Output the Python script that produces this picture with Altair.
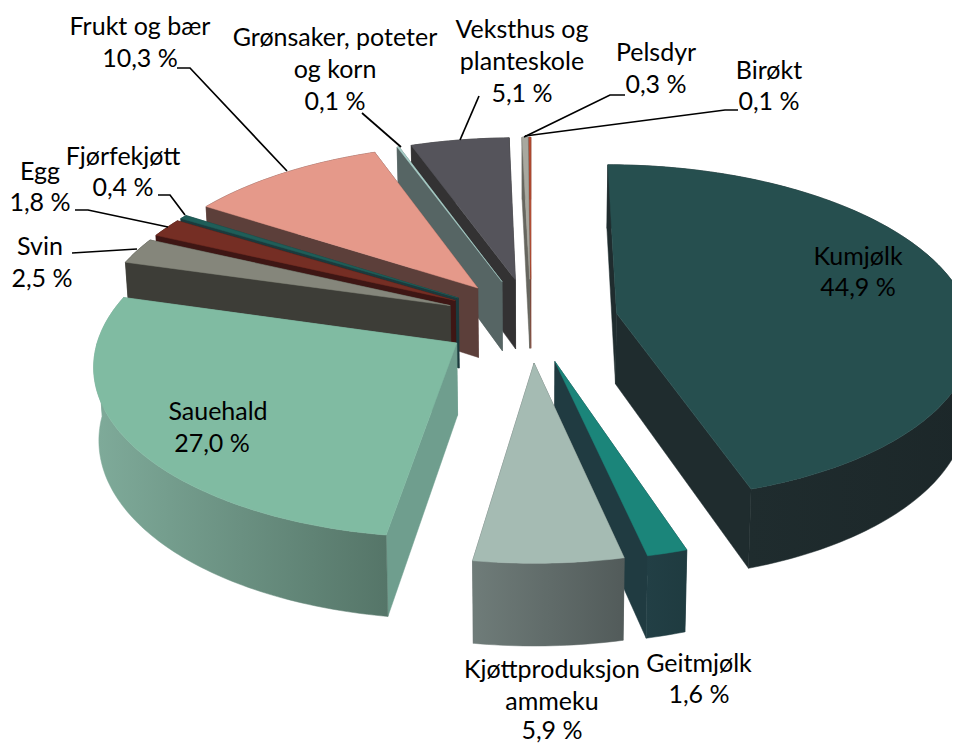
import math
import altair as alt
import pandas as pd

# Chart values
names = ["Kumjølk", "Geitmjølk", "Kjøttproduksjon ammeku", "Sauehald", "Svin", "Egg",
         "Fjørfekjøtt", "Frukt og bær", "Grønsaker, poteter og korn",
         "Veksthus og planteskole", "Pelsdyr", "Birøkt"]
shares = [44.9, 1.6, 5.9, 27.0, 2.5, 1.8, 0.4, 10.3, 0.1, 5.1, 0.3, 0.1]
top_colors = ["#264F4F", "#1B857A", "#A5BBB3", "#80BBA2", "#85867B", "#752E24",
              "#1F5E59", "#E5998A", "#A9CFC8", "#55545B", "#A8A89F", "#B5492F"]
side_colors = ["#1F2C2E", "#203B41", "#525B5A", "#6F9E8E", "#3D3D37", "#3E1614",
               "#1B3A3D", "#5C3F3A", "#566564", "#333233", "#66665F", "#7A3A2A"]
rim_left = ["#1F2C2E", "#223F45", "#6F7C79", "#7FAB9A", "#3D3D37", "#3E1614",
            "#1B3A3D", "#5C3F3A", "#566564", "#333233", "#66665F", "#7A3A2A"]
rim_right = ["#1C2729", "#1F3B40", "#525B5A", "#557568", "#3D3D37", "#3E1614",
             "#1B3A3D", "#5C3F3A", "#566564", "#333233", "#66665F", "#7A3A2A"]
paint_order = [11, 10, 9, 8, 7, 6, 5, 4, 3, 0, 1, 2]

label_lines = ["Kumjølk", "44,9 %", "Sauehald", "27,0 %", "Kjøttproduksjon", "ammeku", "5,9 %",
               "Geitmjølk", "1,6 %", "Svin", "2,5 %", "Egg", "1,8 %", "Fjørfekjøtt", "0,4 %",
               "Frukt  og bær", "10,3 %", "Grønsaker, poteter", "og korn", "0,1 %",
               "Veksthus og", "planteskole", "5,1 %", "Pelsdyr", "0,3 %", "Birøkt", "0,1 %"]
label_x = [850, 850, 210, 204, 544, 544, 544, 691, 691, 32, 34, 32, 32, 115, 115, 132, 132,
           327, 327, 327, 514, 514, 514, 648, 648, 761, 761]
label_y = [249, 280, 404, 436, 662, 694, 723, 656, 687, 239, 271, 164, 195, 149, 180, 19, 51,
           30, 62, 94, 22, 54, 86, 45, 77, 63, 94]
leader_paths = [
    [(169, 60), (182, 60), (279, 163)],
    [(354, 105), (393, 139)],
    [(471, 88), (452, 132)],
    [(617, 87), (602, 87), (516, 129)],
    [(730, 102), (717, 102), (517, 128)],
    [(150, 187), (162, 187), (177, 207)],
    [(67, 202), (80, 202), (160, 219)],
    [(64, 245), (129, 241)],
]

# View of the tilted disc
cx, y0, yv = 523.0, 312.0, -1158.0
rx, rd = 354.0, 0.1135
ex, ed = 87.0, 0.0285
wall, taper = 71.0, 0.988


def project(X, v, z):
    t = 1 / (1 - v)
    return (cx + X * t * (1 - (1 - taper) * z), yv + (y0 - yv) * t + wall * t * z)


W, H = 944, 737
X = alt.X("x:Q", scale=alt.Scale(domain=[0, W], range=[0, W]), axis=None)
Y = alt.Y("y:Q", scale=alt.Scale(domain=[0, H], range=[0, H]), axis=None)
layers = []


def add_poly(points, paint):
    data = pd.DataFrame([{"i": i, "x": round(x, 2), "y": round(y, 2)}
                         for i, (x, y) in enumerate(points)])
    layers.append(alt.Chart(data).mark_line(
        interpolate="linear-closed", fill=paint, stroke=paint, strokeWidth=0.5,
    ).encode(x=X, y=Y, order="i:Q"))


def band(rim, paint):
    if len(rim) > 1:
        add_poly([project(*p, 0) for p in rim] + [project(*p, 1) for p in reversed(rim)], paint)


acc = 0.0
starts = []
for s in shares:
    starts.append(acc)
    acc += s
scale = 360 / acc

for k in paint_order:
    a0 = math.radians(starts[k] * scale)
    a1 = math.radians((starts[k] + shares[k]) * scale)
    mid = (a0 + a1) / 2
    ax, av = ex * math.sin(mid), -ed * math.cos(mid)
    n = max(2, int((a1 - a0) / math.radians(1)))
    angles = [a0 + (a1 - a0) * j / n for j in range(n + 1)]
    rim = [(ax + rx * math.sin(a), av - rd * math.cos(a)) for a in angles]
    back = [p for a, p in zip(angles, rim) if math.cos(a) > 0]
    front = [p for a, p in zip(angles, rim) if math.cos(a) <= 0]
    if back and front:
        if math.cos(angles[0]) > 0:
            back.append(front[0])
        else:
            back.insert(0, front[-1])

    band(back, rim_left[k])
    sides = sorted([[(ax, av), rim[0]], [(ax, av), rim[-1]]], key=lambda e: e[1][1])
    for p, q in sides:
        add_poly([project(*p, 0), project(*q, 0), project(*q, 1), project(*p, 1)], side_colors[k])
    if rim_left[k] == rim_right[k]:
        band(front, rim_left[k])
    else:
        band(front, alt.Gradient(gradient="linear", x1=0, y1=0, x2=1, y2=0, stops=[
            alt.GradientStop(color=rim_left[k], offset=0),
            alt.GradientStop(color=rim_right[k], offset=1)]))
    add_poly([project(ax, av, 0)] + [project(*p, 0) for p in rim], top_colors[k])

labels = pd.DataFrame({"t": label_lines, "x": label_x, "y": label_y})
leaders = pd.DataFrame([{"g": g, "i": i, "x": x, "y": y}
                        for g, path in enumerate(leader_paths) for i, (x, y) in enumerate(path)])

lead = alt.Chart(leaders).mark_line(color="#000000", strokeWidth=1.7).encode(
    x=X, y=Y, detail="g:N", order="i:Q")
text = alt.Chart(labels).mark_text(font="Lato", fontSize=25, color="#000000",
                                   align="center", baseline="middle").encode(x=X, y=Y, text="t:N")

chart = alt.layer(*layers, lead, text).properties(
    width=W, height=H, padding=0, autosize=alt.AutoSizeParams(type="none"),
).configure_view(stroke=None)
chart.save("out.html", embed_options={"renderer": "svg", "actions": False})
